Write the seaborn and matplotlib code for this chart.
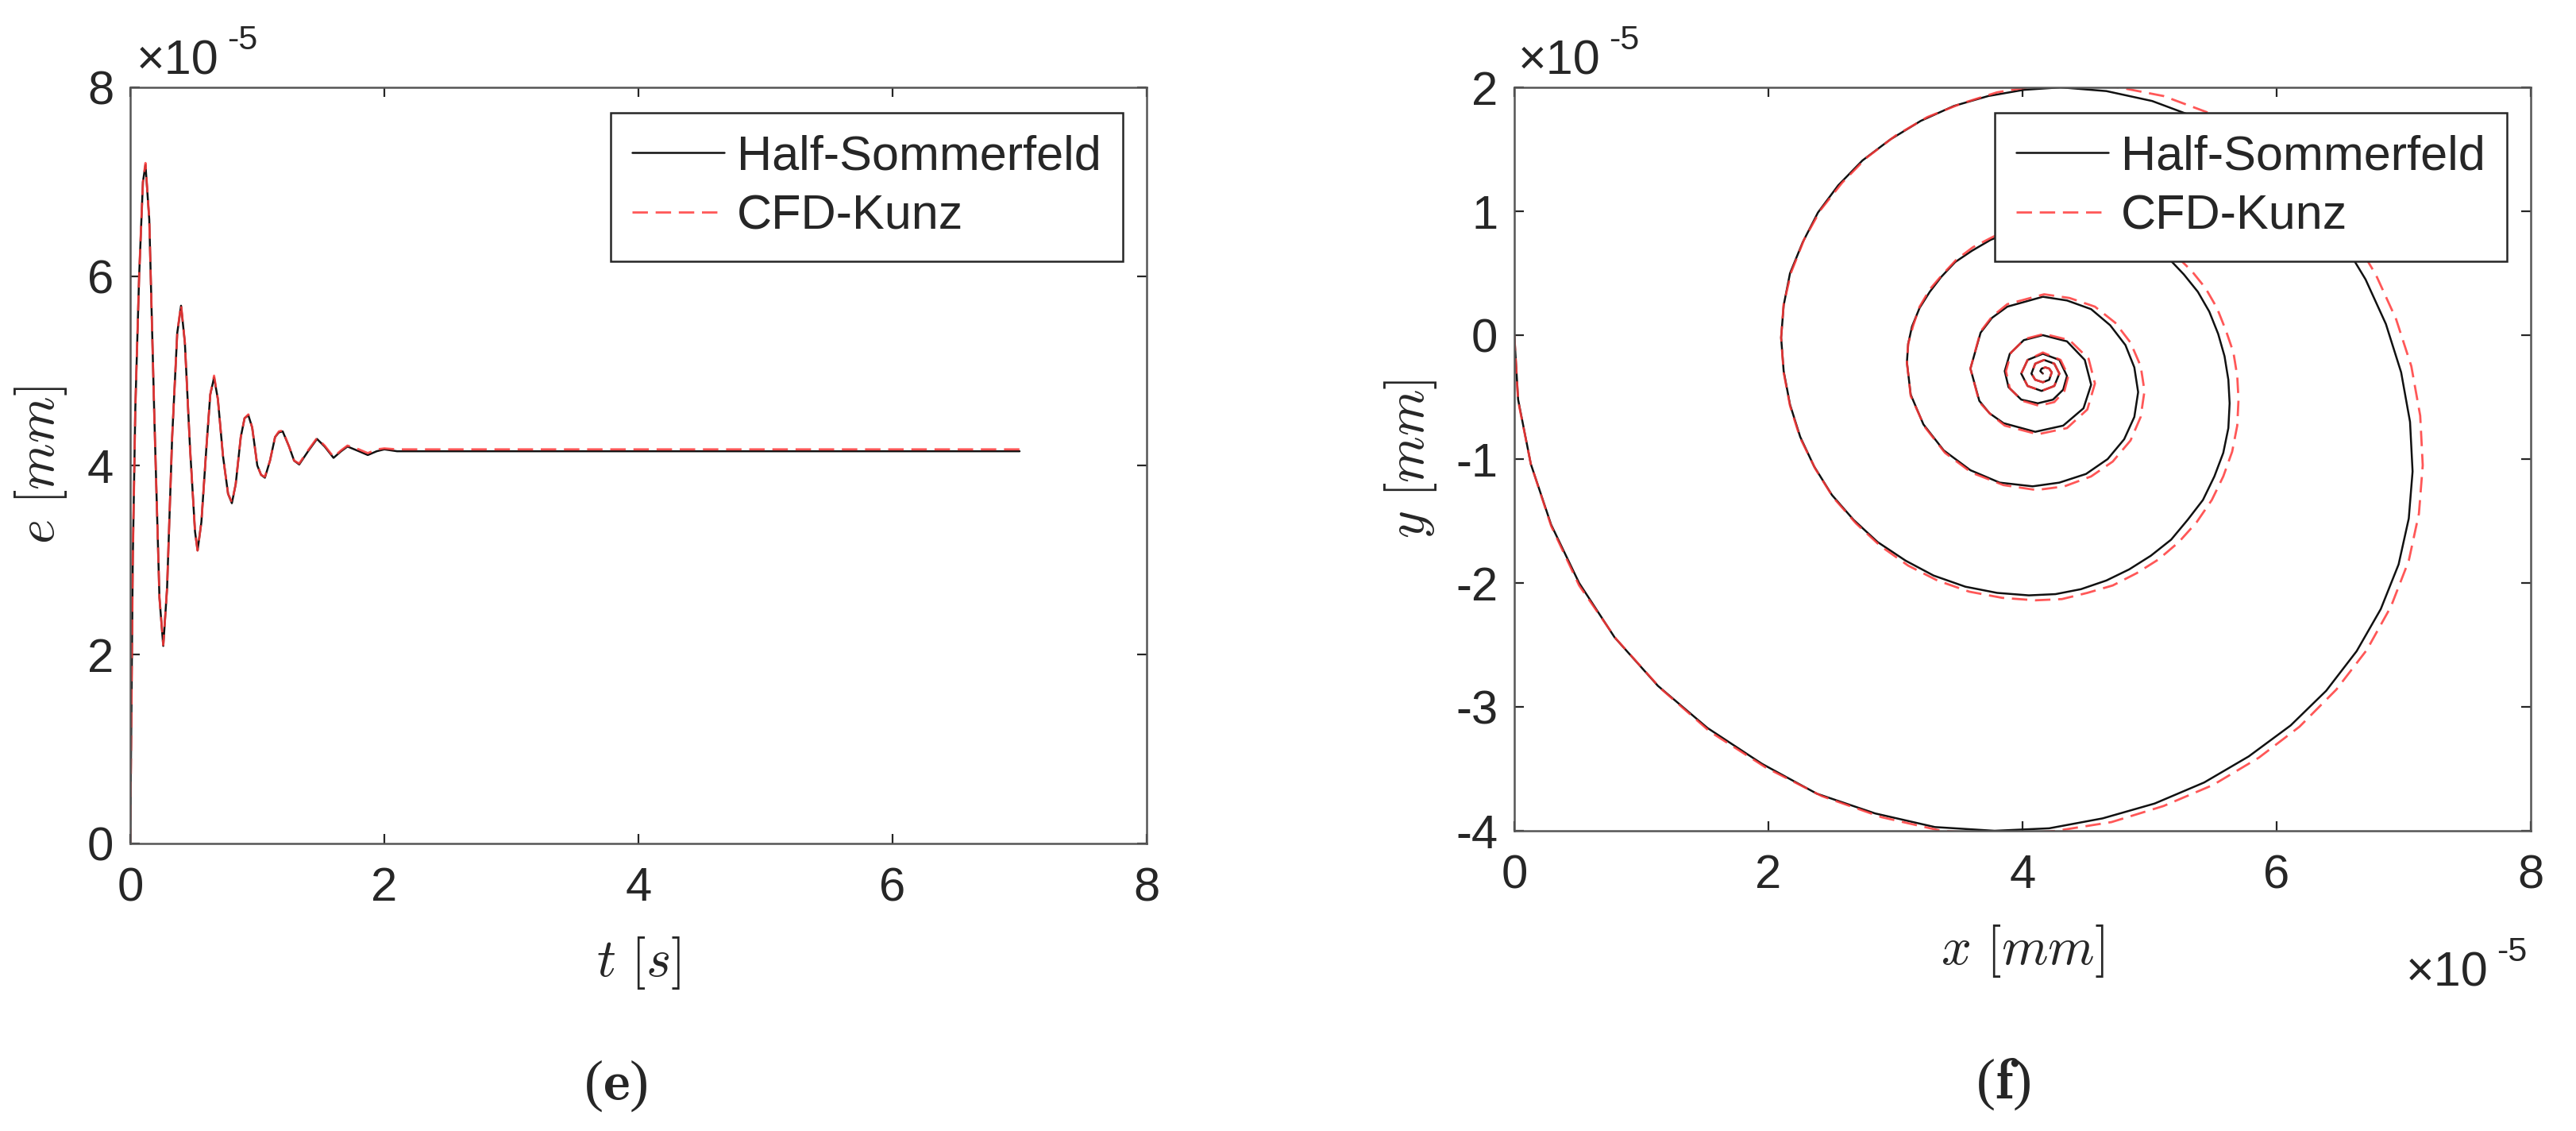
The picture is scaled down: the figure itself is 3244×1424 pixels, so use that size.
import numpy as np
import pandas as pd
import matplotlib.pyplot as plt
import seaborn as sns

# time response, e in units of 1e-5 mm
t_s = [0.00, 0.01, 0.02, 0.04, 0.07, 0.10, 0.12, 0.15, 0.19, 0.23, 0.26, 0.29, 0.33, 0.37,
       0.40, 0.43, 0.47, 0.51, 0.53, 0.56, 0.60, 0.63, 0.66, 0.69, 0.73, 0.77, 0.80, 0.83,
       0.87, 0.90, 0.93, 0.96, 1.00, 1.03, 1.06, 1.10, 1.14, 1.17, 1.20, 1.25, 1.29, 1.33,
       1.40, 1.47, 1.53, 1.60, 1.66, 1.71, 1.80, 1.87, 1.94, 2.00, 2.10, 2.30, 7.00]
e_half = [0.00, 1.50, 3.00, 4.60, 6.00, 7.00, 7.18, 6.60, 4.50, 2.60, 2.09, 2.70, 4.30, 5.40,
          5.69, 5.30, 4.20, 3.30, 3.10, 3.40, 4.20, 4.75, 4.93, 4.70, 4.10, 3.70, 3.60, 3.80,
          4.30, 4.50, 4.53, 4.40, 4.00, 3.90, 3.87, 4.05, 4.30, 4.35, 4.36, 4.20, 4.05, 4.01,
          4.15, 4.28, 4.20, 4.08, 4.15, 4.20, 4.15, 4.11, 4.15, 4.17, 4.15, 4.15, 4.15]
e_kunz = [0.00, 1.50, 3.00, 4.60, 6.00, 7.00, 7.20, 6.60, 4.50, 2.60, 2.10, 2.70, 4.30, 5.40,
          5.70, 5.30, 4.20, 3.30, 3.10, 3.40, 4.20, 4.75, 4.95, 4.70, 4.10, 3.70, 3.61, 3.80,
          4.30, 4.50, 4.54, 4.40, 4.00, 3.90, 3.88, 4.05, 4.30, 4.36, 4.37, 4.20, 4.05, 4.02,
          4.16, 4.29, 4.21, 4.09, 4.16, 4.21, 4.17, 4.13, 4.17, 4.18, 4.17, 4.17, 4.17]

# journal centre orbit (x, y), units of 1e-5 mm
orbit_half = [
    (0.00, 0.00), (0.03, -0.52), (0.13, -1.04), (0.29, -1.53), (0.51, -2.00), (0.79, -2.44),
    (1.13, -2.83), (1.52, -3.17), (1.95, -3.46), (2.38, -3.70), (2.84, -3.86), (3.31, -3.97),
    (3.78, -4.00),
    (4.21, -3.98), (4.63, -3.90), (5.04, -3.78), (5.43, -3.61), (5.78, -3.40), (6.11, -3.15),
    (6.39, -2.87), (6.63, -2.55), (6.82, -2.21), (6.96, -1.85), (7.04, -1.48), (7.07, -1.10),
    (7.05, -0.70), (6.98, -0.30), (6.86, 0.09), (6.70, 0.45), (6.50, 0.79), (6.26, 1.09),
    (5.99, 1.36), (5.69, 1.58), (5.36, 1.76), (5.02, 1.89), (4.66, 1.97), (4.30, 2.00),
    (4.01, 1.98), (3.73, 1.93), (3.46, 1.85), (3.20, 1.73), (2.96, 1.58), (2.74, 1.41),
    (2.55, 1.21), (2.39, 0.99), (2.27, 0.75), (2.17, 0.50), (2.12, 0.24), (2.10, -0.02),
    (2.12, -0.29), (2.17, -0.56), (2.25, -0.82), (2.36, -1.06), (2.50, -1.29), (2.67, -1.49),
    (2.86, -1.67), (3.08, -1.82), (3.30, -1.94), (3.55, -2.03), (3.80, -2.08), (4.05, -2.10),
    (4.26, -2.09), (4.46, -2.05), (4.66, -1.98), (4.84, -1.89), (5.01, -1.78), (5.17, -1.65),
    (5.30, -1.49), (5.42, -1.33), (5.51, -1.14), (5.58, -0.95), (5.62, -0.75), (5.63, -0.55),
    (5.62, -0.36), (5.59, -0.17), (5.54, 0.01), (5.47, 0.19), (5.38, 0.35), (5.27, 0.49),
    (5.15, 0.62), (5.02, 0.72), (4.87, 0.81), (4.72, 0.87), (4.56, 0.91), (4.40, 0.92),
    (4.23, 0.91), (4.06, 0.88), (3.90, 0.83), (3.75, 0.77), (3.60, 0.68), (3.47, 0.59),
    (3.36, 0.47), (3.27, 0.35), (3.19, 0.22), (3.13, 0.07), (3.10, -0.07), (3.09, -0.22),
    (3.12, -0.48), (3.22, -0.72), (3.38, -0.93), (3.59, -1.09), (3.82, -1.19), (4.08, -1.22),
    (4.29, -1.19), (4.50, -1.12), (4.67, -1.00), (4.80, -0.84), (4.88, -0.66), (4.91, -0.46),
    (4.88, -0.26), (4.81, -0.08), (4.69, 0.08), (4.54, 0.21), (4.35, 0.28), (4.16, 0.31),
    (3.88, 0.23), (3.76, 0.14), (3.67, 0.02), (3.59, -0.27),
    (3.66, -0.53), (3.74, -0.63), (3.85, -0.71), (4.10, -0.78),
    (4.32, -0.73), (4.48, -0.59), (4.54, -0.40),
    (4.49, -0.20), (4.35, -0.05), (4.16, 0.00),
    (4.01, -0.04), (3.90, -0.15), (3.86, -0.29),
    (3.89, -0.42), (3.99, -0.52), (4.12, -0.55),
    (4.24, -0.52), (4.32, -0.44), (4.35, -0.33),
    (4.29, -0.20), (4.16, -0.15), (4.04, -0.20), (3.99, -0.31), (4.04, -0.41), (4.15, -0.45),
    (4.25, -0.41), (4.29, -0.31), (4.25, -0.23), (4.17, -0.20), (4.10, -0.23), (4.07, -0.31),
    (4.10, -0.36), (4.16, -0.38), (4.21, -0.36), (4.23, -0.30), (4.21, -0.27), (4.18, -0.26),
    (4.15, -0.27), (4.14, -0.29), (4.16, -0.31),
]
orbit_kunz = [
    (0.00, 0.00), (0.03, -0.53), (0.13, -1.04), (0.29, -1.54), (0.51, -2.02), (0.80, -2.45),
    (1.15, -2.85), (1.54, -3.20), (1.98, -3.49), (2.42, -3.72), (2.89, -3.89), (3.36, -4.00),
    (3.84, -4.03),
    (4.27, -4.00), (4.70, -3.93), (5.11, -3.80), (5.50, -3.63), (5.86, -3.41), (6.18, -3.16),
    (6.47, -2.86), (6.71, -2.54), (6.90, -2.19), (7.04, -1.82), (7.12, -1.44), (7.15, -1.05),
    (7.13, -0.65), (7.06, -0.25), (6.94, 0.13), (6.78, 0.49), (6.58, 0.83), (6.34, 1.13),
    (6.07, 1.39), (5.78, 1.62), (5.45, 1.80), (5.11, 1.93), (4.76, 2.00), (4.40, 2.03),
    (4.10, 2.01), (3.80, 1.96), (3.52, 1.87), (3.25, 1.76), (3.00, 1.61), (2.77, 1.43),
    (2.58, 1.23), (2.41, 1.01), (2.28, 0.77), (2.18, 0.51), (2.12, 0.25), (2.10, -0.02),
    (2.12, -0.30), (2.17, -0.57), (2.25, -0.83), (2.37, -1.08), (2.51, -1.31), (2.69, -1.52),
    (2.88, -1.70), (3.10, -1.86), (3.33, -1.98), (3.58, -2.07), (3.84, -2.12), (4.10, -2.14),
    (4.31, -2.13), (4.51, -2.08), (4.71, -2.02), (4.90, -1.92), (5.07, -1.81), (5.23, -1.67),
    (5.37, -1.51), (5.49, -1.33), (5.58, -1.14), (5.65, -0.94), (5.69, -0.73), (5.70, -0.52),
    (5.69, -0.33), (5.66, -0.14), (5.60, 0.04), (5.53, 0.22), (5.44, 0.38), (5.33, 0.52),
    (5.20, 0.65), (5.06, 0.75), (4.91, 0.84), (4.75, 0.90), (4.59, 0.94), (4.42, 0.95),
    (4.25, 0.94), (4.08, 0.91), (3.91, 0.86), (3.76, 0.79), (3.61, 0.71), (3.48, 0.61),
    (3.37, 0.49), (3.27, 0.37), (3.19, 0.23), (3.14, 0.08), (3.10, -0.07), (3.09, -0.22),
    (3.12, -0.49), (3.23, -0.74), (3.39, -0.95), (3.60, -1.11), (3.85, -1.21), (4.11, -1.25),
    (4.33, -1.22), (4.54, -1.14), (4.71, -1.02), (4.85, -0.85), (4.93, -0.66), (4.96, -0.45),
    (4.93, -0.25), (4.85, -0.06), (4.73, 0.10), (4.57, 0.23), (4.37, 0.30), (4.17, 0.33),
    (3.88, 0.25), (3.76, 0.15), (3.67, 0.03), (3.59, -0.27),
    (3.66, -0.54), (3.75, -0.64), (3.86, -0.73), (4.12, -0.80),
    (4.35, -0.75), (4.51, -0.60), (4.57, -0.39),
    (4.52, -0.19), (4.37, -0.04), (4.17, 0.01),
    (4.02, -0.03), (3.91, -0.14), (3.87, -0.29),
    (3.90, -0.43), (4.00, -0.53), (4.13, -0.57),
    (4.25, -0.54), (4.33, -0.45), (4.36, -0.33),
    (4.30, -0.20), (4.16, -0.14), (4.04, -0.20), (3.99, -0.31), (4.04, -0.41), (4.15, -0.45),
    (4.25, -0.41), (4.29, -0.31), (4.25, -0.23), (4.17, -0.20), (4.10, -0.23), (4.07, -0.31),
    (4.10, -0.36), (4.16, -0.38), (4.21, -0.36), (4.23, -0.30), (4.21, -0.27), (4.18, -0.26),
    (4.15, -0.27), (4.14, -0.29), (4.16, -0.31),
]

series_names = ['Half-Sommerfeld', 'CFD-Kunz']

sns.set_style('ticks')
plt.rcParams['font.family'] = ['Liberation Sans', 'DejaVu Sans']
plt.rcParams['mathtext.fontset'] = 'cm'
plt.rcParams['axes.unicode_minus'] = False

W, H = 3244, 1424
fig = plt.figure(figsize=(W / 200, H / 200), dpi=200)
ax_e = fig.add_axes([164 / W, 1 - 1062 / H, 1280 / W, 952 / H])
ax_o = fig.add_axes([1907 / W, 1 - 1046 / H, 1280 / W, 936 / H])

axis_col = '#262626'
black_col = '#111111'
red_col = '#ff3a3a'


def style_axes(ax):
    for sp in ax.spines.values():
        sp.set_color('#555555')
        sp.set_linewidth(0.9)
    ax.tick_params(direction='in', length=4.3, width=0.8, colors=axis_col,
                   top=True, right=True, labelsize=21.5)
    ax.tick_params(axis='x', pad=10.5)
    ax.tick_params(axis='y', pad=7.5)
    ax.set_facecolor('white')


def add_legend(ax):
    h = ax.get_lines()[:2]
    leg = ax.legend(h, series_names, loc='upper right',
                    bbox_to_anchor=(1 - 30 / 1280, 1 - 32 / ax.bbox.height),
                    borderaxespad=0, fontsize=22, handlelength=1.9, handletextpad=0.25,
                    labelspacing=0.3, borderpad=0.45, fancybox=False, framealpha=1,
                    edgecolor=axis_col)
    leg.get_frame().set_linewidth(0.9)
    return leg


# (e) eccentricity vs time
df_e = pd.DataFrame({'t': t_s, 'half': e_half, 'kunz': e_kunz})
sns.lineplot(data=df_e, x='t', y='half', ax=ax_e, color=black_col, lw=0.9,
             estimator=None, sort=False)
sns.lineplot(data=df_e, x='t', y='kunz', ax=ax_e, color=red_col, lw=1.0, alpha=0.85,
             estimator=None, sort=False)
ax_e.lines[1].set_dashes((7, 3.5))
ax_e.set_xlim(0, 8)
ax_e.set_ylim(0, 8)
ax_e.set_xticks([0, 2, 4, 6, 8])
ax_e.set_yticks([0, 2, 4, 6, 8])
style_axes(ax_e)
ax_e.set_xlabel(r'$t\ [s]$', fontsize=24, color=axis_col)
ax_e.set_ylabel(r'$e\ [mm]$', fontsize=24, color=axis_col)
ax_e.xaxis.set_label_coords(0.5, -0.121)
ax_e.yaxis.set_label_coords(-0.060, 0.5)
add_legend(ax_e)

# (f) orbit
df_h = pd.DataFrame(orbit_half, columns=['x', 'y'])
df_k = pd.DataFrame(orbit_kunz, columns=['x', 'y'])
sns.lineplot(data=df_h, x='x', y='y', ax=ax_o, color=black_col, lw=0.9,
             estimator=None, sort=False)
sns.lineplot(data=df_k, x='x', y='y', ax=ax_o, color=red_col, lw=1.0, alpha=0.85,
             estimator=None, sort=False)
ax_o.lines[1].set_dashes((7, 3.5))
ax_o.set_xlim(0, 8)
ax_o.set_ylim(-4, 2)
ax_o.set_xticks([0, 2, 4, 6, 8])
ax_o.set_yticks([-4, -3, -2, -1, 0, 1, 2])
style_axes(ax_o)
ax_o.set_xlabel(r'$x\ [mm]$', fontsize=24, color=axis_col)
ax_o.set_ylabel(r'$y\ [mm]$', fontsize=24, color=axis_col)
ax_o.xaxis.set_label_coords(0.5, -0.124)
ax_o.yaxis.set_label_coords(-0.074, 0.5)
add_legend(ax_o)


def exponent(x_px, base_px):
    fig.text(x_px / W, 1 - base_px / H, '\u00d710', fontsize=22, color=axis_col,
             va='baseline', ha='left')
    fig.text((x_px + 114) / W, 1 - (base_px - 32) / H, '-5', fontsize=15.5, color=axis_col,
             va='baseline', ha='left')


exponent(172, 94)
exponent(1912, 94)
exponent(3030, 1242)

fig.text(775 / W, 1 - 1367 / H, r'($\mathbf{e}$)', fontsize=26, ha='center', va='center',
         family='Liberation Serif')
fig.text(2522 / W, 1 - 1365 / H, r'($\mathbf{f}$)', fontsize=26, ha='center', va='center',
         family='Liberation Serif')

fig.savefig('out.png', dpi=200, facecolor='white')
